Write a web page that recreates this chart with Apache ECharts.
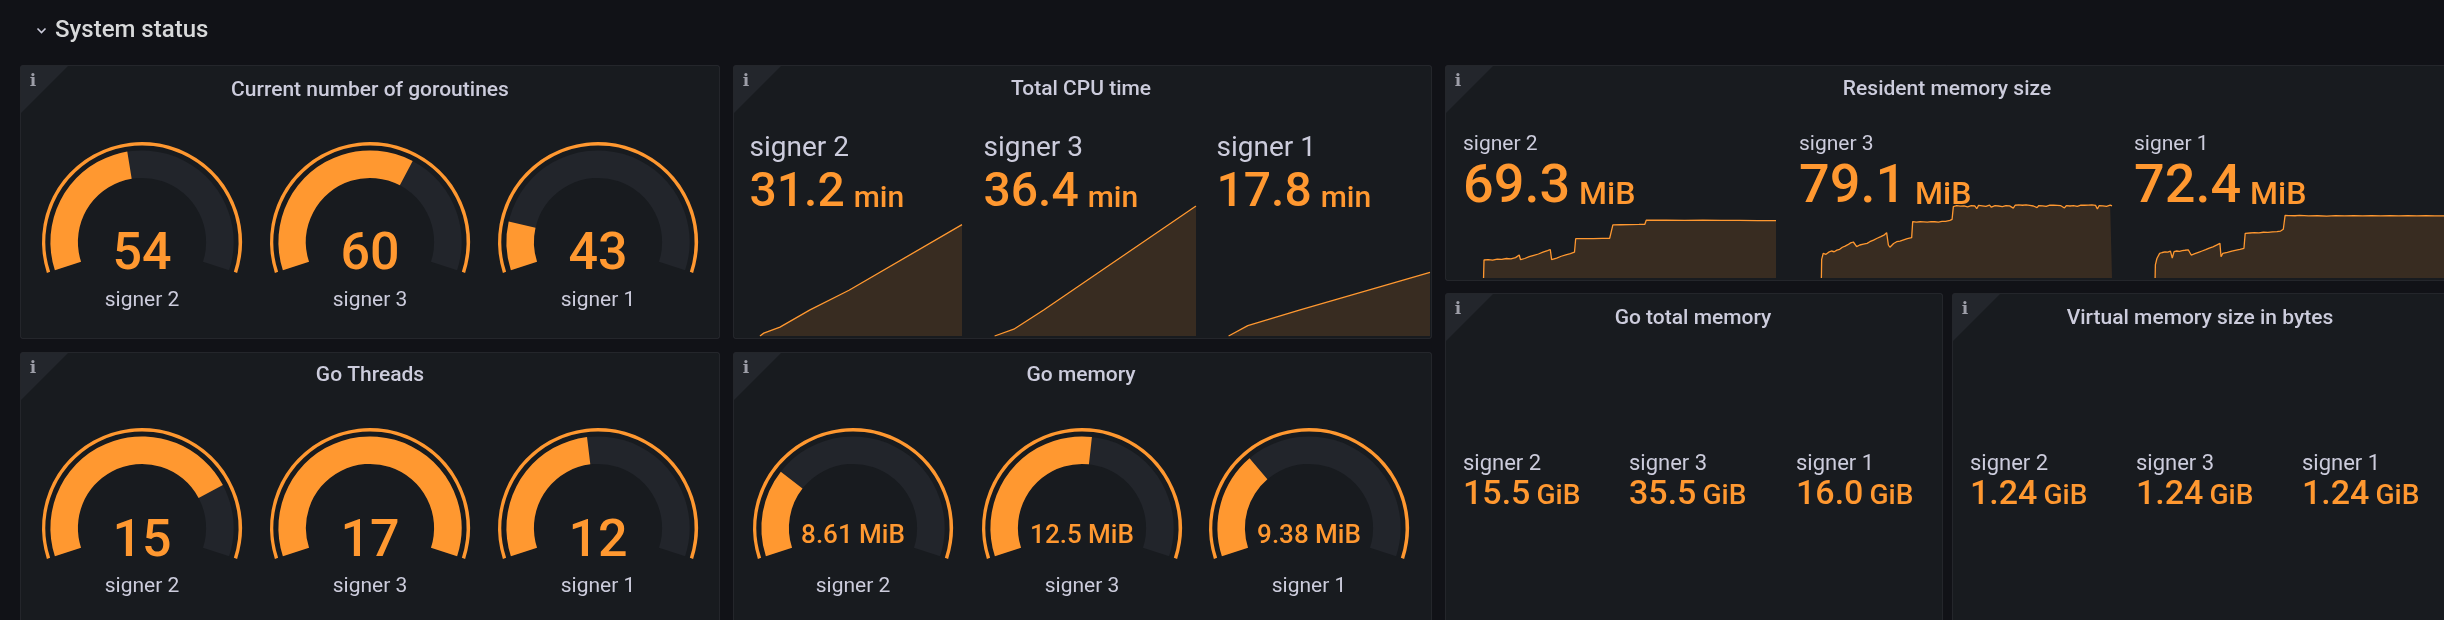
<!DOCTYPE html>
<html><head><meta charset="utf-8">
<script src="https://cdn.jsdelivr.net/npm/echarts@6/dist/echarts.min.js"></script>
<style>html,body{margin:0;padding:0;background:#111217;}#c{width:2444px;height:620px;}</style>
</head><body><div id="c"></div>
<script>
// ---------------- data ----------------
const signers = ['signer 2', 'signer 3', 'signer 1'];

const goroutines = [54, 60, 43];
const goroutinesRange = [38, 73];
const goThreads = [15, 17, 12];
const goThreadsRange = [7.6, 17];
const goMemoryMiB = [8.61, 12.5, 9.38];
const goMemoryRange = [4.87, 19.3];

const cpuTimeMin = [31.2, 36.4, 17.8];
const cpuSigner2 = [[41,0],[47,0.8],[72.6,2.5],[120,7.3],[181.6,12.8],[360,31.2]];
const cpuSigner3 = [[42,0],[72.3,1.9],[119.5,7.3],[360,36.4]];
const cpuSigner1 = [[42,0],[72.3,2.9],[155,7.3],[360,17.8]];
const cpuYRange = [0, 36.4];

const residentMiB = [69.3, 79.1, 72.4];
const resSigner2 = [[40,31],[40.5,43],[45,43.3],[50,42.9],[55,43.6],[60,43.4],[65,44],[70,43.8],[75,44.6],[79,46.3],[80.5,43.2],[85,44],[90,45.2],[95,46.1],[100,47],[105,48.2],[110,49.3],[113,50],[114.5,43.2],[120,44.3],[125,45.5],[130,46.4],[135,47.3],[139.5,48.2],[140.8,57.2],[150,57.3],[160,57.2],[170,57.4],[178,57.5],[181.5,66.4],[190,66.5],[200,66.6],[210,66.7],[216.5,66.8],[218,69.5],[240,69.5],[260,69.4],[280,69.5],[300,69.4],[320,69.4],[340,69.3],[360,69.3]];
const resSigner3 = [[42,31],[42.3,43.4],[44,47.4],[47,46.8],[50,48.2],[53,49],[56,48.5],[59,49.6],[62,50.1],[65,51.5],[68,52.3],[71,53.2],[74,54.4],[77,55],[78.8,56.3],[80.6,51.9],[84,53],[88,53.6],[92,54.1],[95,55.2],[99,56.3],[103,57.5],[107,58.6],[111,59.8],[113.4,61.2],[115.3,53],[117,51.5],[119,50.8],[121,54],[124.4,55.2],[128,55.6],[132,56.4],[136,57.2],[140.8,57.9],
  [141.9,68.6],[144,69],[146,68.3],[148,68.8],[150,68.5],[152,69.1],[154,68.4],[156,68.9],[158,68.2],[160,68.8],[162,68.6],[164,69.2],[166,68.5],[168,68.9],[170,68.3],[172,69],[174,68.7],[176,69.3],[178,68.8],[180,69.1],[182.7,69.4],[185,70.1],
  [186.4,78.6],[188,79.6],[190,79.2],[192,79.7],[194,78.9],[196,79.5],[198,79.1],[200,79.6],[202,78.4],[204,79.5],[206,79.3],[208,79.8],[210,79],[212,77.2],[214,79.4],[216,79.6],[218,79.1],[220,79.7],[222,78.8],[224,79.4],[226,79.6],[228,78.2],[230,79.5],[232,79.2],[234,79.7],[236,79],[238,79.5],[240,78.6],[242,79.6],[244,79.3],[246,79.8],[248,79.1],[250,79.4],[252,77.6],[254,79.5],[256,79.2],[258,79.7],[260,78.9],[262,79.5],[264,79.2],[266,79.8],[268,78.5],[270,79.4],[272,79.6],[274,79],[276,79.5],[278,77.9],[280,79.3],[282,79.6],[284,79.1],[286,79.7],[288,78.8],[290,79.4],[292,79.6],[294,79.1],[296,79.5],[298,78.3],[300,79.4],[302,79.7],[304,79.2],[306,79.6],[308,77.7],[310,79.3],[312,79.6],[314,79],[316,79.5],[318,79.2],[320,79.7],[322,78.7],[324,79.4],[326,79.6],[328,79.1],[330,79.5],[332,78.4],[334,79.6],[336,79.2],[338,79.7],[340,79],[342,79.4],[344,77],[346,79.3],[348,79.6],[350,79.1],[352,79.5],[354,78.8],[356,79.4],[358,79.6],[360,79.1]];
const resSigner1 = [[40,31],[40.3,39.7],[42,44],[45,47.4],[48,48],[51,48.4],[54,48.2],[57,48.9],[59,44.2],[61,48.6],[64,49],[67,48.8],[70,49.3],[73,49.5],[76.7,49.8],[80,46.3],[84,47.2],[88,48.1],[92,49],[96,49.9],[100,50.9],[104,51.8],[108,52.9],[111.8,54.1],[113,45.2],[115,47.4],[120,48.1],[125,48.9],[130,49.6],[134,50.1],[138.4,50.8],[139.8,60.8],[145,61],[150,61.2],[155,61.1],[160,61.5],[165,61.4],[170,61.7],[175,61.9],[179,62.3],[182,63.5],[184,72.8],[188,72.6],[195,72.5],[200,72.7],[210,72.4],[220,72.5],[230,72.3],[240,72.6],[250,72.4],[260,72.5],[270,72.4],[280,72.6],[290,72.4],[300,72.5],[310,72.4],[320,72.5],[330,72.4],[340,72.5],[350,72.4],[360,72.4]];
const resYRange = [31, 103];
const timeRange = [0, 360];

const goTotalGiB = [15.5, 35.5, 16.0];
const virtualGiB = [1.24, 1.24, 1.24];

// ---------------- rendering ----------------
const ORANGE = '#ff9830', TEXT = '#ccccdc', PANEL = '#181b1f', TRACK = '#22252b';
const FONT = 'Roboto';
const fmt3 = v => Number(v).toPrecision(3);
const graphic = [];
const grids = [], xAxes = [], yAxes = [], series = [];

const mctx = document.createElement('canvas').getContext('2d');
function tw(t, size, weight) { mctx.font = weight + ' ' + size + 'px ' + FONT; return mctx.measureText(t).width; }

function txt(x, baseline, text, size, color, weight, align, z) {
  graphic.push({type: 'text', x: x, y: baseline - 0.342 * size, z: z || 50, silent: true,
    style: {text: text, fill: color, fontSize: size, fontWeight: weight, fontFamily: FONT,
      align: align || 'left', verticalAlign: 'middle'}});
}

function panel(x, y, w, h, title, tcx, tBase) {
  graphic.push({type: 'rect', silent: true, z: 1, shape: {x: x + 0.5, y: y + 0.5, width: w, height: h, r: 2},
    style: {fill: PANEL, stroke: 'rgba(204,204,220,0.09)', lineWidth: 1}});
  graphic.push({type: 'polygon', silent: true, z: 2, shape: {points: [[x + 1, y + 1], [x + 48, y + 1], [x + 1, y + 48]]},
    style: {fill: '#23262c'}});
  graphic.push({type: 'text', silent: true, z: 3, x: x + 13, y: y + 16.5,
    style: {text: 'i', fill: '#9d9ea8', fontSize: 17, fontWeight: 'bold', fontFamily: 'DejaVu Serif', align: 'center', verticalAlign: 'middle'}});
  txt(tcx, tBase, title, 21, TEXT, 500, 'center');
}

function gauge(cx, cy, value, name, range, formatter, vSize, vOff) {
  const common = {type: 'gauge', center: [cx, cy], startAngle: 198, endAngle: -18, min: range[0], max: range[1],
    pointer: {show: false}, axisTick: {show: false}, splitLine: {show: false}, axisLabel: {show: false},
    anchor: {show: false}, silent: true};
  series.push(Object.assign({}, common, {radius: 100,
    axisLine: {lineStyle: {width: 3.4, color: [[1, ORANGE]]}}, progress: {show: false},
    title: {show: false}, detail: {show: false}, data: [{value: value, name: ''}]}));
  series.push(Object.assign({}, common, {radius: 91.6,
    axisLine: {lineStyle: {width: 27.5, color: [[1, TRACK]]}},
    progress: {show: true, width: 27.5, roundCap: false, itemStyle: {color: ORANGE}},
    title: {show: true, offsetCenter: [0, 59], color: TEXT, fontSize: 21, fontFamily: FONT},
    detail: {show: true, offsetCenter: [0, vOff], color: ORANGE, fontSize: vSize, fontWeight: 500, fontFamily: FONT, formatter: formatter},
    data: [{value: value, name: name}]}));
}

function spark(left, top, width, height, yr, data) {
  const i = grids.length;
  grids.push({left: left, top: top, width: width, height: height});
  xAxes.push({type: 'value', gridIndex: i, min: timeRange[0], max: timeRange[1], show: false});
  yAxes.push({type: 'value', gridIndex: i, min: yr[0], max: yr[1], show: false});
  series.push({type: 'line', xAxisIndex: i, yAxisIndex: i, data: data, showSymbol: false, symbol: 'none', silent: true,
    lineStyle: {color: ORANGE, width: 1.3}, areaStyle: {color: 'rgba(255,152,48,0.2)', origin: 'start'}, z: 10});
}

function stat(x, lBase, vBase, label, value, unit, lSize, vSize, uSize, gap) {
  txt(x, lBase, label, lSize, TEXT, 400);
  txt(x, vBase, value, vSize, ORANGE, 500, 'left', 100);
  txt(x + tw(value, vSize, 500) + gap, vBase, unit, uSize, ORANGE, 500, 'left', 100);
}

// Row header
graphic.push({type: 'polyline', silent: true, z: 5, shape: {points: [[37.5, 28.5], [41.5, 32.5], [45.5, 28.5]]},
  style: {stroke: TEXT, lineWidth: 1.6, fill: null}});
txt(55, 39.3, 'System status', 24, '#d8d9da', 500);

// Panels
panel(20, 65, 699, 273, 'Current number of goroutines', 370, 97.7);
panel(733, 65, 698, 273, 'Total CPU time', 1081, 97.3);
panel(1445, 65, 1030, 215, 'Resident memory size', 1947, 96.7);
panel(20, 352, 699, 300, 'Go Threads', 370, 382.7);
panel(733, 352, 698, 300, 'Go memory', 1081, 383);
panel(1445, 293, 497, 360, 'Go total memory', 1693, 326);
panel(1952, 293, 530, 360, 'Virtual memory size in bytes', 2200, 326);

// Gauges
const gaugeTopX = [142, 370, 598];
const gaugeMemX = [853, 1082, 1309];
signers.forEach((s, i) => {
  gauge(gaugeTopX[i], 242, goroutines[i], s, goroutinesRange, v => String(v), 52, 14);
  gauge(gaugeTopX[i], 528, goThreads[i], s, goThreadsRange, v => String(v), 52, 15);
  gauge(gaugeMemX[i], 528, goMemoryMiB[i], s, goMemoryRange, v => fmt3(v) + ' MiB', 26, 8);
});

// CPU sparklines + stats
const cpuData = [cpuSigner2, cpuSigner3, cpuSigner1];
const cpuLeft = [734, 968, 1202];
const cpuTextX = [749.5, 983.5, 1216.5];
signers.forEach((s, i) => {
  spark(cpuLeft[i], 206, 228, 130, cpuYRange, cpuData[i]);
  stat(cpuTextX[i], 158.3, 210, s, fmt3(cpuTimeMin[i]), 'min', 28, 48, 30, 9);
});

// Resident memory sparklines + stats
const resData = [resSigner2, resSigner3, resSigner1];
const resLeft = [1447, 1783, 2119];
const resTextX = [1463, 1799, 2134];
signers.forEach((s, i) => {
  spark(resLeft[i], 170, 329, 108, resYRange, resData[i]);
  stat(resTextX[i], 151.7, 206.7, s, fmt3(residentMiB[i]), 'MiB', 21, 54, 32, 9);
});

// Go total memory / Virtual memory stats
const gtX = [1463, 1629, 1796];
const vmX = [1970, 2136, 2302];
signers.forEach((s, i) => {
  stat(gtX[i], 471.7, 506.7, s, fmt3(goTotalGiB[i]), 'GiB', 22, 34, 28, 6);
  stat(vmX[i], 471.7, 506.7, s, fmt3(virtualGiB[i]), 'GiB', 22, 34, 28, 6);
});

const chart = echarts.init(document.getElementById('c'), null, {renderer: 'canvas'});
chart.setOption({
  backgroundColor: '#111217',
  animation: false,
  textStyle: {fontFamily: FONT},
  grid: grids, xAxis: xAxes, yAxis: yAxes,
  series: series,
  graphic: {elements: graphic}
});
</script></body></html>
